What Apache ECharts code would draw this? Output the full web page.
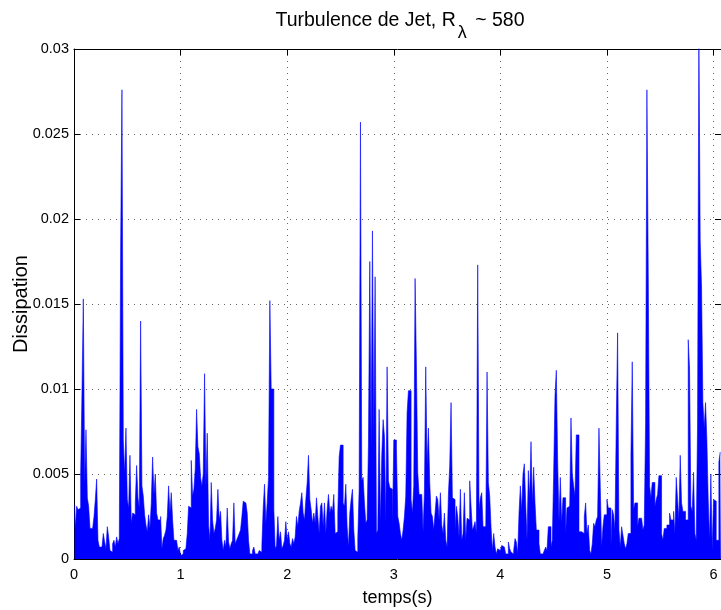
<!DOCTYPE html>
<html>
<head>
<meta charset="utf-8">
<script src="https://cdn.jsdelivr.net/npm/echarts@6/dist/echarts.min.js"></script>
<style>
  html, body { margin: 0; padding: 0; background: #fff; }
  #chart { width: 721px; height: 610px; }
</style>
</head>
<body>
<div id="chart"></div>
<script>
// Sampling step of the signal (s)
const dt = 0.0125;
// Dissipation samples, in units of 1e-3
const dissipationE3 = [
  // 0 – 0.84 s
  3.2, 1.8, 3.1, 2.9, 3.0, 5.0, 9.9, 15.3, 4.4, 7.6,
  3.6, 3.1, 1.8, 1.8, 1.7, 2.5, 3.5, 4.7, 1.1, 0.7,
  0.7, 0.7, 1.5, 1.0, 0.6, 1.9, 1.3, 0.5, 0.4, 0.9,
  1.1, 0.7, 1.3, 0.9, 1.2, 18.3, 27.6, 7.0, 5.0, 7.7,
  3.5, 3.0, 6.1, 2.1, 2.7, 2.6, 3.3, 5.5, 3.6, 3.0,
  14.0, 4.3, 3.7, 2.6, 2.0, 1.6, 2.6, 1.8, 3.3, 6.0,
  3.8, 5.0, 2.7, 2.3, 2.3, 2.5, 0.6,
  // 0.84 – 1.65 s
  1.2, 1.4, 1.7, 2.5, 4.3, 2.7, 3.9, 2.3, 1.1, 1.1,
  1.2, 0.5, 0.7, 0.2, 0.3, 0.5, 0.6, 0.7, 1.5, 3.1,
  3.0, 5.8, 3.7, 4.1, 5.3, 8.8, 6.6, 6.2, 4.8, 4.3,
  5.0, 10.9, 4.3, 7.4, 2.0, 1.1, 4.5, 2.3, 1.5, 1.8,
  2.3, 4.1, 2.3, 2.8, 1.1, 0.5, 1.1, 0.7, 3.0, 1.0,
  0.6, 0.9, 1.1, 3.3, 0.9, 1.1, 1.3, 1.5, 1.7, 2.5,
  3.4, 3.3, 3.3, 2.7, 1.1,
  // 1.65 – 2.45 s
  0.3, 0.3, 0.5, 0.7, 0.3, 0.3, 0.4, 0.5, 0.4, 0.8,
  3.0, 4.4, 2.1, 3.3, 4.8, 15.2, 10.0, 10.0, 2.9, 0.6,
  0.8, 2.5, 1.1, 1.6, 0.6, 0.8, 1.1, 2.2, 1.1, 1.6,
  0.9, 0.7, 1.2, 0.9, 1.3, 2.5, 1.9, 2.8, 3.3, 3.9,
  2.7, 2.3, 3.5, 4.5, 6.1, 3.5, 2.9, 2.1, 2.7, 2.1,
  3.6, 2.5, 1.5, 3.1, 3.3, 1.9, 3.3, 1.5, 2.9, 3.8,
  2.7, 3.1, 2.8, 3.8,
  // 2.45 – 3.25 s
  1.5, 1.6, 2.7, 6.0, 6.7, 6.7, 3.3, 3.1, 4.4, 1.9,
  0.7, 2.7, 3.5, 4.1, 1.7, 0.5, 0.4, 1.2, 4.1, 25.7,
  4.6, 4.8, 3.3, 2.1, 2.3, 6.8, 17.5, 6.5, 19.3, 7.0,
  16.6, 1.5, 1.7, 8.8, 2.1, 6.1, 8.2, 7.2, 2.1, 11.3,
  4.6, 4.2, 4.1, 1.7, 7.0, 7.0, 6.5, 2.5, 2.1, 1.5,
  1.1, 1.7, 2.5, 3.7, 8.6, 9.9, 9.9, 3.5, 2.7, 4.3,
  16.5, 11.4, 5.1, 3.8,
  // 3.25 – 4.04 s
  3.8, 3.7, 1.6, 3.9, 11.3, 5.5, 7.7, 4.5, 2.7, 2.5,
  1.7, 2.7, 3.7, 3.5, 2.3, 3.9, 2.0, 1.5, 2.7, 1.1,
  0.7, 3.8, 5.5, 9.2, 3.6, 3.5, 1.7, 3.1, 2.5, 1.3,
  4.1, 1.1, 1.5, 3.9, 1.1, 2.4, 2.3, 4.6, 3.1, 1.7,
  1.9, 2.2, 1.5, 17.3, 2.9, 3.6, 3.9, 1.9, 1.9, 1.3,
  11.0, 4.5, 3.7, 1.9, 0.5, 1.5, 0.7, 0.3, 0.6, 0.5,
  0.5, 0.8, 0.7,
  // 4.04 – 4.84 s
  0.6, 0.3, 0.3, 1.0, 0.6, 0.4, 0.3, 0.5, 1.2, 1.0,
  0.3, 2.7, 4.3, 2.8, 5.0, 5.6, 3.3, 1.1, 5.2, 3.6,
  6.9, 3.3, 5.4, 3.3, 1.7, 1.7, 0.9, 0.3, 0.3, 0.3,
  0.5, 0.7, 0.5, 1.9, 1.9, 0.7, 1.1, 5.0, 9.6, 11.1,
  5.8, 2.2, 4.8, 2.1, 3.6, 3.6, 1.5, 3.0, 3.1, 2.8,
  8.3, 5.0, 4.3, 3.7, 7.3, 7.3, 1.6, 1.6, 1.6, 1.5,
  2.5, 3.3, 1.5, 2.0,
  // 4.84 – 5.63 s
  0.5, 0.3, 0.9, 2.1, 1.9, 2.3, 2.5, 7.7, 4.2, 0.7,
  1.9, 2.6, 2.6, 3.5, 3.0, 3.0, 0.8, 2.9, 2.6, 1.7,
  8.0, 13.3, 1.7, 0.7, 1.9, 1.4, 0.9, 0.6, 0.9, 1.5,
  1.5, 6.1, 11.6, 2.9, 3.3, 3.3, 1.9, 2.4, 2.4, 2.5,
  1.7, 2.0, 8.0, 27.6, 16.8, 4.3, 3.6, 4.5, 4.5, 3.1,
  3.5, 3.8, 4.9, 4.9, 1.5, 1.1, 1.8, 1.8, 2.0, 2.0,
  2.7, 2.3, 2.3,
  // 5.63 – 6.07 s
  2.8, 1.5, 4.8, 3.5, 2.3, 6.1, 3.3, 2.8, 2.8, 2.3,
  2.3, 12.9, 11.2, 3.1, 2.8, 5.1, 1.5, 1.1, 8.0, 31.0,
  18.7, 16.0, 9.2, 7.7, 9.2, 7.0, 3.5, 1.1, 5.0, 0.5,
  3.5, 3.4, 1.1, 1.1, 5.7, 6.3
];
// Axis ticks
const xTicks = [0, 1, 2, 3, 4, 5, 6];
const yTicks = [0, 0.005, 0.01, 0.015, 0.02, 0.025, 0.03];
const xMax = 6.07;

const FONT = 'Liberation Sans, Arial, Helvetica, sans-serif';
const seriesData = dissipationE3.map((v, i) => [(i + 0.5) * dt, v / 1000]);

const gridDots = { show: true, lineStyle: { color: '#666', width: 1, type: [1, 5] } };
const frameLine = { show: true, onZero: false, lineStyle: { color: '#000', width: 1 } };
const inTicks = { show: true, inside: true, length: 6, lineStyle: { color: '#000', width: 1 } };

const chart = echarts.init(document.getElementById('chart'), null, { renderer: 'canvas' });
chart.setOption({
  animation: false,
  backgroundColor: '#fff',
  title: {
    text: '{m|Turbulence de Jet, R}{sub|λ}{m| ~ 580}',
    left: 395,
    top: 6,
    textAlign: 'center',
    textStyle: {
      fontWeight: 'normal',
      rich: {
        m: { fontFamily: FONT, fontSize: 19.5, fontWeight: 'normal', color: '#000', lineHeight: 25, verticalAlign: 'top' },
        sub: { fontFamily: FONT, fontSize: 18, fontWeight: 'normal', color: '#000', lineHeight: 24, verticalAlign: 'top', padding: [13, 3, 0, 2] }
      }
    }
  },
  // Y-axis title, rotated, left of the tick labels
  graphic: [{
    type: 'text',
    x: 21.5, y: 304,
    rotation: Math.PI / 2,
    style: {
      text: 'Dissipation', fill: '#000', font: '20px ' + FONT,
      align: 'center', verticalAlign: 'middle'
    }
  }],
  grid: { left: 74, top: 49, width: 647, height: 510, containLabel: false, outerBoundsMode: 'none' },
  xAxis: [{
    type: 'value', min: 0, max: xMax, interval: 1, position: 'bottom',
    axisLine: frameLine, axisTick: inTicks, splitLine: gridDots,
    axisLabel: {
      color: '#000', fontFamily: FONT, fontSize: 14.5, margin: 8,
      formatter: v => (xTicks.includes(v) ? String(v) : '')
    },
    name: 'temps(s)', nameLocation: 'middle', nameGap: 30,
    nameTextStyle: { color: '#000', fontFamily: FONT, fontSize: 18 }
  }, {
    type: 'value', min: 0, max: xMax, interval: 1, position: 'top',
    axisLine: frameLine, axisTick: inTicks, splitLine: { show: false }, axisLabel: { show: false }
  }],
  yAxis: [{
    type: 'value', min: 0, max: 0.03, interval: 0.005, position: 'left',
    axisLine: frameLine, axisTick: inTicks, splitLine: gridDots,
    axisLabel: {
      color: '#000', fontFamily: FONT, fontSize: 14.5, margin: 5,
      formatter: v => { const t = yTicks.find(y => Math.abs(y - v) < 1e-9); return t === undefined ? '' : String(t); }
    }
  }, {
    type: 'value', min: 0, max: 0.03, interval: 0.005, position: 'right',
    axisLine: frameLine, axisTick: inTicks, splitLine: { show: false }, axisLabel: { show: false }
  }],
  series: [{
    type: 'line',
    xAxisIndex: 0, yAxisIndex: 0,
    data: seriesData,
    step: 'middle',
    symbol: 'none',
    sampling: null,
    clip: true,
    lineStyle: { color: '#0000ff', width: 0.6 },
    areaStyle: { color: '#0000ff', opacity: 1 },
    itemStyle: { color: '#0000ff' }
  }]
});
</script>
</body>
</html>
